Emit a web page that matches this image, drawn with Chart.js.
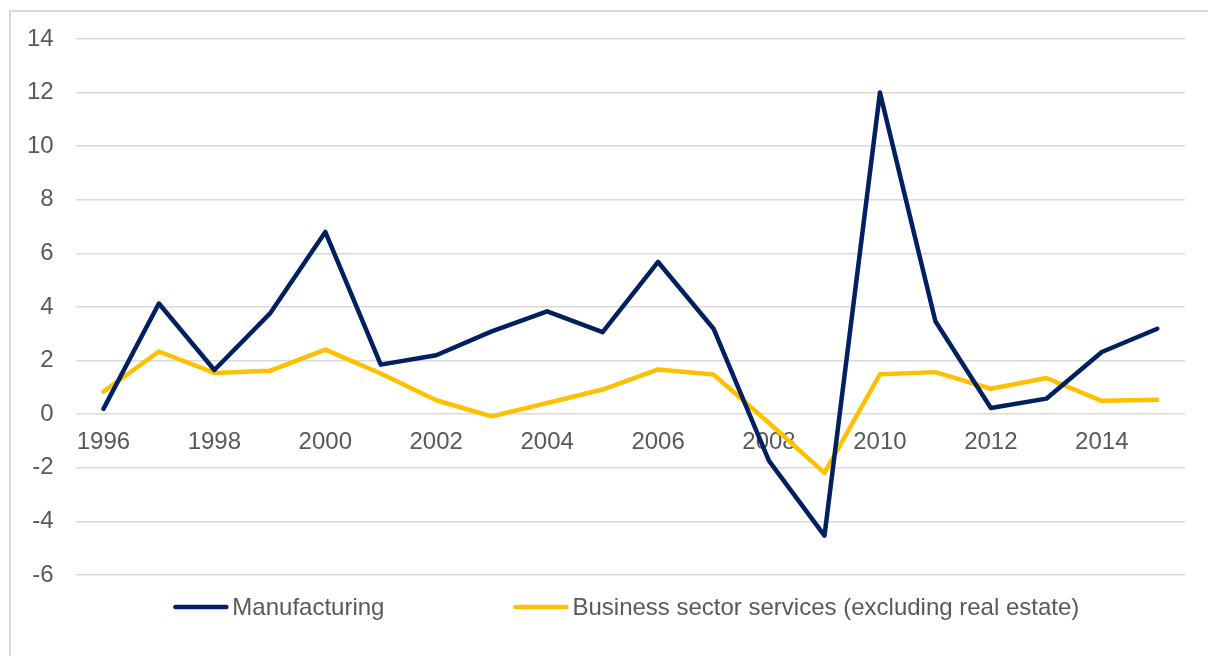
<!DOCTYPE html>
<html>
<head>
<meta charset="utf-8">
<script src="https://cdn.jsdelivr.net/npm/chart.js@4/dist/chart.umd.min.js"></script>
<style>
  html, body { margin: 0; padding: 0; background: #ffffff; }
  #wrap { position: relative; width: 1208px; height: 656px; overflow: hidden; }
  #frame { position: absolute; left: 9px; top: 10px; width: 1230px; height: 700px;
           border: 2px solid #d9d9d9; box-sizing: border-box; pointer-events: none; }
  canvas { position: absolute; left: 0; top: 0; }
</style>
</head>
<body>
<div id="wrap">
  <canvas id="chart" width="1208" height="656"></canvas>
  <div id="frame"></div>
</div>
<script>
// Annual growth, per cent
const years = ['1996','1997','1998','1999','2000','2001','2002','2003','2004','2005',
               '2006','2007','2008','2009','2010','2011','2012','2013','2014','2015'];
const manufacturing = [0.2, 4.13, 1.65, 3.75, 6.8, 1.85, 2.2, 3.09, 3.84, 3.06,
                       5.68, 3.19, -1.74, -4.53, 12.0, 3.47, 0.23, 0.58, 2.32, 3.19];
const businessServices = [0.84, 2.34, 1.54, 1.62, 2.41, 1.52, 0.52, -0.08, 0.42, 0.92,
                          1.67, 1.48, -0.33, -2.19, 1.49, 1.57, 0.95, 1.35, 0.5, 0.54];
const seriesNames = ['Manufacturing', 'Business sector services (excluding real estate)'];
const yMin = -6, yMax = 14, yStep = 2;

const textColor = '#595959';
const gridColor = '#d9d9d9';
const fontFamily = '"Liberation Sans", Arial, sans-serif';
const fontSize = 24;

// Legend below the plot: short line swatch followed closely by the series name
const bottomLegend = {
  id: 'bottomLegend',
  afterDraw(chart) {
    const ctx = chart.ctx;
    const area = chart.chartArea;
    const swatch = 55, gapText = 4, gapItems = 129;
    ctx.save();
    ctx.font = fontSize + 'px ' + fontFamily;
    const items = chart.data.datasets.map(ds => ({
      ds, w: swatch + gapText + ctx.measureText(ds.label).width
    }));
    const total = items.reduce((s, it) => s + it.w, 0) + gapItems * (items.length - 1);
    let x = (area.left + area.right) / 2 - 4 - total / 2;
    const y = area.bottom + 32;
    items.forEach(it => {
      ctx.strokeStyle = it.ds.borderColor;
      ctx.lineWidth = it.ds.borderWidth;
      ctx.lineCap = 'round';
      ctx.beginPath();
      ctx.moveTo(x + 2, y);
      ctx.lineTo(x + swatch - 2, y);
      ctx.stroke();
      ctx.fillStyle = textColor;
      ctx.textBaseline = 'middle';
      ctx.textAlign = 'left';
      ctx.fillText(it.ds.label, x + swatch + gapText, y + 1);
      x += it.w + gapItems;
    });
    ctx.restore();
  }
};

new Chart(document.getElementById('chart'), {
  type: 'line',
  data: {
    labels: years,
    datasets: [
      { label: seriesNames[0], data: manufacturing, borderColor: '#002060', backgroundColor: '#002060',
        borderWidth: 4.5, pointRadius: 0, borderJoinStyle: 'round', borderCapStyle: 'round', tension: 0 },
      { label: seriesNames[1], data: businessServices, borderColor: '#ffc000', backgroundColor: '#ffc000',
        borderWidth: 4.5, pointRadius: 0, borderJoinStyle: 'round', borderCapStyle: 'round', tension: 0 }
    ]
  },
  plugins: [bottomLegend],
  options: {
    responsive: false,
    animation: false,
    layout: { padding: { left: 5, right: 23, top: 39, bottom: 81 } },
    plugins: {
      tooltip: { enabled: false },
      legend: { display: false }
    },
    scales: {
      x: {
        type: 'category',
        position: { y: 0 },
        offset: true,
        grid: { display: false, drawTicks: false },
        border: { display: false },
        ticks: {
          autoSkip: false,
          maxRotation: 0,
          padding: 14,
          color: textColor,
          font: { family: fontFamily, size: fontSize },
          callback: function (value, index) { return index % 2 === 0 ? this.getLabelForValue(value) : ''; }
        }
      },
      y: {
        min: yMin,
        max: yMax,
        ticks: { stepSize: yStep, padding: 22, color: textColor, font: { family: fontFamily, size: fontSize } },
        grid: { color: gridColor, lineWidth: 1.5, drawTicks: false },
        border: { display: false }
      }
    }
  }
});
</script>
</body>
</html>
